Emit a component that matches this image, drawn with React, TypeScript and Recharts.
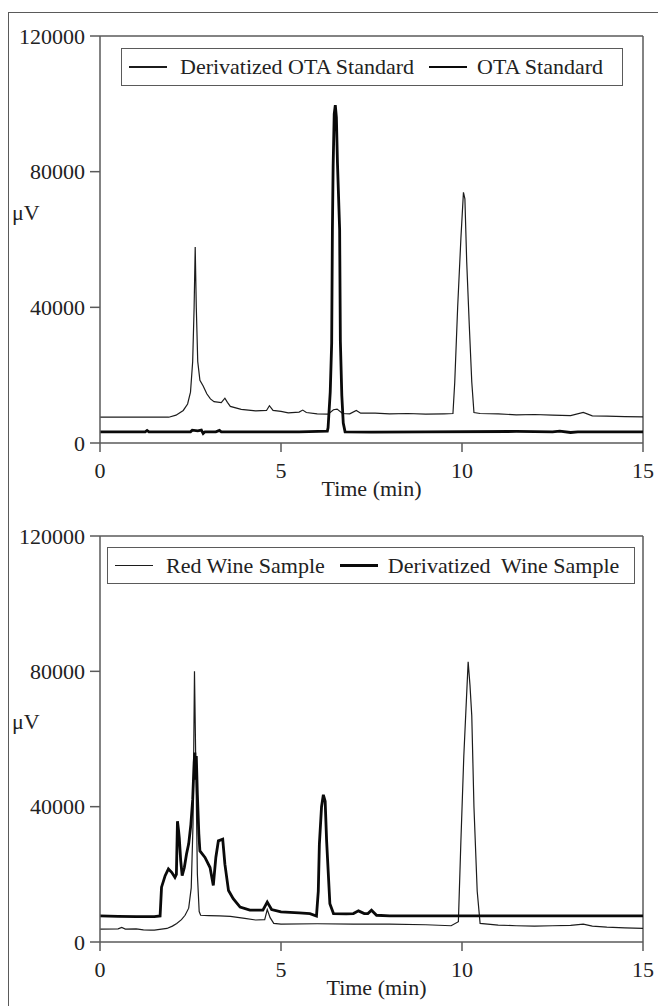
import React from 'react'
import { LineChart, Line, XAxis, YAxis, Legend, ReferenceLine, Label } from 'recharts'

const FONT = "'Liberation Serif', 'Times New Roman', serif"
const AXIS = '#5a5a5a'

const timeTicks = [0, 5, 10, 15]
const signalTicks = [0, 40000, 80000, 120000]

// top panel: standards
const derivStandard: [number, number][] = [
  [0, 7600], [1.9, 7600], [2.1, 8200], [2.3, 9600], [2.42, 11500], [2.5, 15000],
  [2.56, 24000], [2.6, 40000], [2.63, 57800], [2.66, 40000], [2.7, 24000],
  [2.76, 18500], [2.85, 16800], [2.95, 14500], [3.05, 13000], [3.15, 12200],
  [3.35, 11900], [3.45, 13200], [3.52, 12000], [3.6, 10800], [3.9, 9900],
  [4.3, 9500], [4.6, 9600], [4.68, 11000], [4.78, 9600], [5.0, 9300],
  [5.2, 8900], [5.5, 9100], [5.6, 9700], [5.7, 9000], [6.0, 8600], [6.3, 8500],
  [6.45, 9800], [6.55, 10000], [6.7, 8700], [6.9, 8600], [7.08, 9600],
  [7.2, 8800], [7.6, 8800], [8.0, 8600], [8.5, 8700], [9.0, 8500], [9.5, 8600],
  [9.75, 8700], [9.8, 18000], [9.88, 40000], [9.97, 60400], [10.04, 73900],
  [10.08, 72000], [10.13, 53400], [10.2, 35000], [10.27, 18000], [10.33, 9000],
  [10.5, 8700], [11.0, 8600], [11.5, 8300], [12.0, 8400], [12.5, 8200],
  [13.0, 8100], [13.35, 9000], [13.6, 8000], [14.0, 7900], [14.5, 7800], [15.0, 7700],
]

const otaStandard: [number, number][] = [
  [0, 3300], [1.25, 3300], [1.3, 3700], [1.35, 3300], [2.5, 3300], [2.55, 3800],
  [2.7, 3600], [2.8, 3800], [2.85, 2800], [2.9, 3300], [3.2, 3300], [3.3, 3700],
  [3.35, 3300], [5.5, 3300], [6.28, 3500], [6.3, 4500], [6.36, 15000],
  [6.4, 29500], [6.42, 62800], [6.44, 81500], [6.47, 97000], [6.5, 99600],
  [6.53, 96000], [6.56, 82500], [6.62, 62800], [6.64, 30000], [6.68, 14000],
  [6.72, 5900], [6.77, 3300], [7.5, 3200], [9.0, 3300], [11.5, 3400],
  [12.5, 3300], [12.7, 3500], [13.0, 3100], [13.2, 3300], [15, 3300],
]

// bottom panel: wine
const redWine: [number, number][] = [
  [0, 3800], [0.5, 3900], [0.6, 4300], [0.7, 3800], [1.0, 3900], [1.2, 3600],
  [1.4, 3500], [1.5, 3500], [1.7, 3800], [1.85, 4000], [2.0, 4700], [2.12, 5500],
  [2.25, 6600], [2.35, 7900], [2.45, 10000], [2.52, 16000], [2.57, 35000],
  [2.61, 80000], [2.65, 50000], [2.69, 20000], [2.74, 9000], [2.78, 7900],
  [3.0, 7800], [3.3, 7700], [3.6, 7600], [4.0, 7000], [4.3, 6500], [4.55, 6600],
  [4.62, 9600], [4.7, 7200], [4.8, 5500], [5.0, 5300], [6.0, 5400], [7.0, 5300],
  [8.0, 5300], [9.0, 5100], [9.7, 4800], [9.9, 6000], [9.97, 30000],
  [10.05, 55000], [10.11, 68900], [10.17, 82800], [10.22, 76000], [10.27, 66900],
  [10.33, 40000], [10.42, 15000], [10.5, 5500], [11.0, 5000], [11.5, 4800],
  [12.0, 4700], [12.5, 4800], [13.0, 4900], [13.35, 5300], [13.6, 4700],
  [14.0, 4400], [14.5, 4200], [15, 4000],
]

const derivWine: [number, number][] = [
  [0, 7700], [0.5, 7600], [1.0, 7500], [1.5, 7500], [1.66, 7700], [1.7, 16200],
  [1.8, 19600], [1.89, 21600], [1.98, 20600], [2.07, 19100], [2.11, 20000],
  [2.14, 35700], [2.17, 33000], [2.19, 30800], [2.23, 24000], [2.27, 19600],
  [2.33, 22000], [2.39, 26000], [2.45, 29000], [2.51, 34700], [2.56, 42000],
  [2.6, 53000], [2.62, 56000], [2.64, 48000], [2.66, 55000], [2.69, 43500],
  [2.73, 32000], [2.76, 26900], [2.9, 25000], [3.04, 22000], [3.13, 16700],
  [3.2, 25000], [3.27, 29900], [3.39, 30400], [3.45, 23000], [3.55, 15200],
  [3.68, 12800], [3.87, 10300], [4.14, 9400], [4.5, 9400], [4.62, 11800],
  [4.74, 9600], [5.0, 8900], [5.5, 8600], [5.8, 8400], [5.98, 7700],
  [6.03, 15000], [6.06, 28900], [6.12, 40000], [6.17, 43500], [6.22, 41600],
  [6.26, 29900], [6.35, 11300], [6.45, 8400], [6.8, 8300], [7.0, 8400],
  [7.14, 9200], [7.3, 8400], [7.4, 8400], [7.5, 9400], [7.64, 7900], [8.0, 7700],
  [10, 7700], [12, 7700], [15, 7700],
]

const toRows = (pts: [number, number][]) => pts.map(([t, v]) => ({ t, v }))

const tickStyle = { fontFamily: FONT, fontSize: 22, fill: '#222' }

function LegendBox({ payload, order }: any) {
  const items = [...(payload || [])].sort(
    (a: any, b: any) => order.indexOf(a.value) - order.indexOf(b.value)
  )
  return (
    <div
      style={{
        boxSizing: 'border-box',
        width: '100%',
        height: '100%',
        border: `1.5px solid ${AXIS}`,
        display: 'flex',
        alignItems: 'center',
        paddingLeft: 7,
        fontFamily: FONT,
        fontSize: 22,
        color: '#222',
        whiteSpace: 'pre',
      }}
    >
      {items.map((entry: any, i: number) => (
        <div key={i} style={{ display: 'flex', alignItems: 'center', marginLeft: i === 0 ? 0 : 15 }}>
          <div
            style={{
              width: 38,
              height: entry.payload?.strokeWidth ?? 1,
              background: entry.color,
              marginRight: i === 0 ? 13 : 10,
            }}
          />
          <span>{entry.value}</span>
        </div>
      ))}
    </div>
  )
}

function Panel({
  thin,
  thick,
  thinName,
  thickName,
  height,
  bottom,
  legendLeft,
  legendWidth,
  legendTop,
  legendHeight,
  unitY,
  titleDx,
}: any) {
  return (
    <LineChart
      width={658}
      height={height}
      margin={{ top: 36, right: 15, left: 40, bottom }}
    >
      <XAxis
        type='number'
        dataKey='t'
        domain={[0, 15]}
        ticks={timeTicks}
        height={30}
        stroke={AXIS}
        strokeWidth={1.5}
        tickSize={9}
        tickMargin={10}
        tick={tickStyle}
        allowDataOverflow
      >
        <Label
          content={({ viewBox }: any) => (
            <text
              x={viewBox.x + viewBox.width / 2 + titleDx}
              y={viewBox.y + 53}
              textAnchor='middle'
              style={tickStyle}
            >
              Time (min)
            </text>
          )}
        />
      </XAxis>
      <YAxis
        type='number'
        domain={[0, 120000]}
        ticks={signalTicks}
        width={60}
        stroke={AXIS}
        strokeWidth={1.5}
        tickSize={10}
        tickMargin={5}
        tick={tickStyle}
        allowDataOverflow
      >
        <Label
          content={({ viewBox }: any) => (
            <text x={viewBox.x - 28} y={viewBox.y + unitY} style={tickStyle}>
              μV
            </text>
          )}
        />
      </YAxis>
      <ReferenceLine y={120000} stroke={AXIS} strokeWidth={1.5} />
      <ReferenceLine x={15} stroke={AXIS} strokeWidth={1.5} />
      <Legend
        verticalAlign='middle'
        align='center'
        itemSorter={(item: any) => (item.value === thinName ? 0 : 1)}
        content={<LegendBox order={[thinName, thickName]} />}
        wrapperStyle={{
          position: 'absolute',
          top: legendTop,
          left: legendLeft,
          width: legendWidth,
          height: legendHeight,
        }}
      />
      <Line
        data={toRows(thin)}
        dataKey='v'
        name={thinName}
        type='linear'
        stroke='#1c1c1c'
        strokeWidth={1.2}
        dot={false}
        isAnimationActive={false}
      />
      <Line
        data={toRows(thick)}
        dataKey='v'
        name={thickName}
        type='linear'
        stroke='#0a0a0a'
        strokeWidth={2.8}
        dot={false}
        isAnimationActive={false}
      />
    </LineChart>
  )
}

export default function App() {
  return (
    <div
      style={{
        position: 'absolute',
        top: 0,
        left: 0,
        width: 658,
        height: 1006,
        overflow: 'hidden',
        background: '#fff',
      }}
    >
      <div
        style={{
          position: 'absolute',
          left: 8,
          top: 12,
          width: 700,
          height: 1100,
          borderLeft: `1.5px solid ${AXIS}`,
          borderTop: `1.5px solid ${AXIS}`,
        }}
      />
      <div style={{ position: 'absolute', top: 0, left: 0 }}>
        <Panel
          thin={derivStandard}
          thick={otaStandard}
          thinName='Derivatized OTA Standard'
          thickName='OTA Standard'
          height={510}
          bottom={37}
          legendLeft={121}
          legendWidth={502}
          legendTop={48}
          legendHeight={38}
          unitY={184}
          titleDx={0}
        />
      </div>
      <div style={{ position: 'absolute', top: 500, left: 0 }}>
        <Panel
          thin={redWine}
          thick={derivWine}
          thinName='Red Wine Sample'
          thickName='Derivatized  Wine Sample'
          height={506}
          bottom={34}
          legendLeft={107}
          legendWidth={528}
          legendTop={47}
          legendHeight={37}
          unitY={193}
          titleDx={5}
        />
      </div>
    </div>
  )
}
